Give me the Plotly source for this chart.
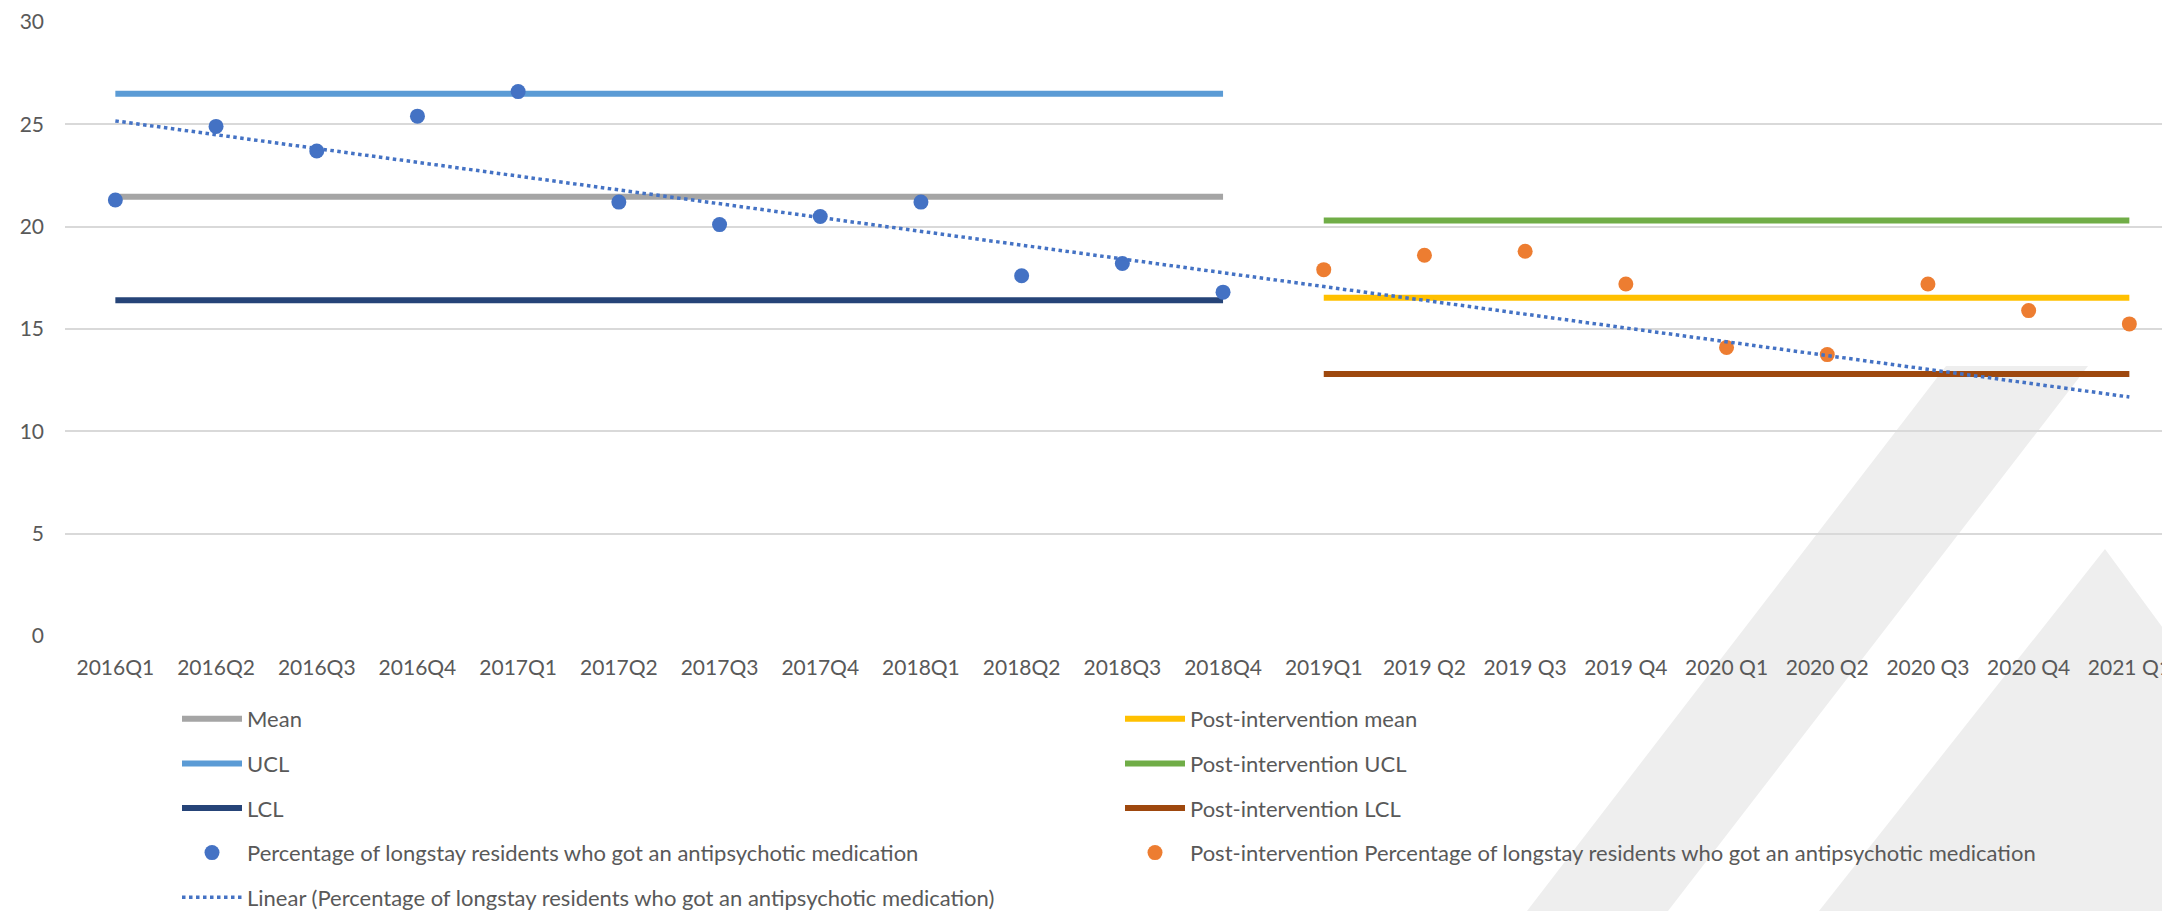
import numpy as np
import plotly.graph_objects as go

categories = ["2016Q1", "2016Q2", "2016Q3", "2016Q4", "2017Q1", "2017Q2", "2017Q3",
              "2017Q4", "2018Q1", "2018Q2", "2018Q3", "2018Q4", "2019Q1", "2019 Q2",
              "2019 Q3", "2019 Q4", "2020 Q1", "2020 Q2", "2020 Q3", "2020 Q4", "2021 Q1"]
pre_categories = categories[:12]
post_categories = categories[12:]

pre_values = [21.3, 24.9, 23.7, 25.4, 26.6, 21.2, 20.1, 20.5, 21.2, 17.6, 18.2, 16.8]
post_values = [17.9, 18.6, 18.8, 17.2, 14.1, 13.75, 17.2, 15.9, 15.25]

pre_mean = 21.46
pre_ucl = 26.5
pre_lcl = 16.4
post_mean = 16.53
post_ucl = 20.3
post_lcl = 12.8

y_ticks = [0, 5, 10, 15, 20, 25, 30]

# linear trend of pre-intervention series, forecast forward
coef = np.polyfit(np.arange(len(pre_values)), pre_values, 1)
trend = np.polyval(coef, np.arange(len(categories)))

FONT = "Lato"
TXT = "#595959"
W, H = 2162, 911
ML, MR, MT, MB = 65, 0, 22, 275
PW, PH = W - ML - MR, H - MT - MB


def px(x, y):
    return (x - ML) / PW, (H - MB - y) / PH


def path(points):
    s = ""
    for i, (x, y) in enumerate(points):
        a, b = px(x, y)
        s += ("M" if i == 0 else "L") + f"{a:.5f},{b:.5f} "
    return s + "Z"


fig = go.Figure()

def hline(cats, val, color, name, legend):
    fig.add_trace(go.Scatter(x=cats, y=[val] * len(cats), mode="lines", name=name,
                             line=dict(color=color, width=6), legend=legend,
                             legendgroup=name, hoverinfo="skip"))

hline(pre_categories, pre_mean, "#A5A5A5", "Mean", "legend")
hline(pre_categories, pre_ucl, "#5B9BD5", "UCL", "legend")
hline(pre_categories, pre_lcl, "#264478", "LCL", "legend")
fig.add_trace(go.Scatter(x=pre_categories, y=pre_values, mode="markers",
                         name="Percentage of longstay residents who got an antipsychotic medication",
                         marker=dict(color="#4472C4", size=15), legend="legend",
                         legendgroup="p1"))
hline(post_categories, post_mean, "#FFC000", "Post-intervention mean", "legend2")
hline(post_categories, post_ucl, "#70AD47", "Post-intervention UCL", "legend2")
hline(post_categories, post_lcl, "#9E480E", "Post-intervention LCL", "legend2")
fig.add_trace(go.Scatter(x=post_categories, y=post_values, mode="markers",
                         name="Post-intervention Percentage of longstay residents who got an antipsychotic medication",
                         marker=dict(color="#ED7D31", size=15), legend="legend2",
                         legendgroup="p2"))
fig.add_trace(go.Scatter(x=categories, y=trend, mode="lines",
                         name="Linear (Percentage of longstay residents who got an antipsychotic medication)",
                         line=dict(color="#4472C4", width=3.5, dash="dot"), legend="legend",
                         legendgroup="lin"))

shapes = [
    dict(type="path", xref="paper", yref="paper", layer="below",
         path=path([(1946, 366), (2088, 366), (1668, 911), (1527, 911)]),
         fillcolor="#EEEEEE", line=dict(width=0)),
    dict(type="path", xref="paper", yref="paper", layer="below",
         path=path([(2105, 549), (2370, 911), (1819, 911)]),
         fillcolor="#EEEEEE", line=dict(width=0)),
]

leg_common = dict(font=dict(family=FONT, size=22, color=TXT), bgcolor="rgba(0,0,0,0)",
                  orientation="v", tracegroupgap=13, traceorder="grouped",
                  xanchor="left", yanchor="top", itemwidth=60)
lx1, ly = px(177, 698)
lx2, _ = px(1120, 698)

fig.update_layout(
    width=W, height=H,
    margin=dict(l=ML, r=MR, t=MT, b=MB, autoexpand=False),
    paper_bgcolor="white", plot_bgcolor="rgba(0,0,0,0)",
    font=dict(family=FONT, size=21, color=TXT),
    showlegend=True,
    legend=dict(x=lx1, y=ly, **leg_common),
    legend2=dict(x=lx2, y=ly, **leg_common),
    shapes=shapes,
    xaxis=dict(type="category", categoryorder="array", categoryarray=categories,
               range=[-0.5, -0.5 + PW / 100.7], showgrid=False, zeroline=False,
               showline=False, ticks="", ticklabelstandoff=17,
               tickfont=dict(family=FONT, size=21, color=TXT), automargin=False),
    yaxis=dict(range=[0, 30], tickvals=y_ticks, showgrid=True, gridcolor="#D9D9D9",
               gridwidth=1.5, zeroline=False, showline=False, ticks="",
               ticklabelstandoff=20, tickfont=dict(family=FONT, size=21, color=TXT),
               automargin=False),
)

fig.write_html("out.html")
